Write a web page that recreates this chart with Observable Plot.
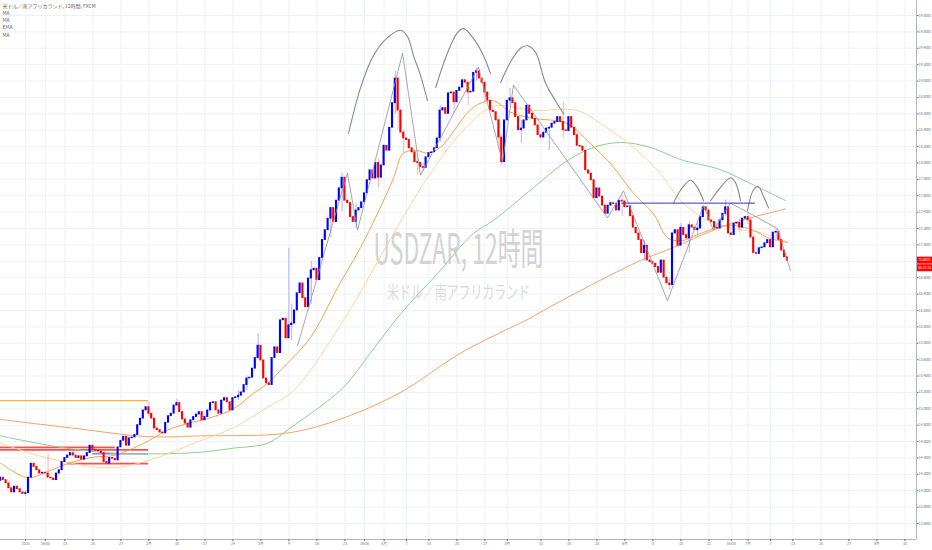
<!DOCTYPE html>
<html><head><meta charset="utf-8">
<script src="https://cdn.jsdelivr.net/npm/d3@7"></script>
<script src="https://cdn.jsdelivr.net/npm/@observablehq/plot@0.6"></script>
<style>html,body{margin:0;padding:0;background:#fff;overflow:hidden}</style>
</head><body><div id="chart"></div>
<script>
// ---- data (slot = 12h bar index, price = USDZAR) ----
const firstOpen = 14.12;
const closes = [
14.16,14.13,14.09,14.03,13.98,14.05,14.02,13.98,13.96,13.97,
14.16,14.33,14.29,14.25,14.21,14.22,14.21,14.16,14.15,14.13,
14.21,14.25,14.35,14.40,14.43,14.46,14.43,14.40,14.42,14.38,
14.42,14.46,14.55,14.50,14.49,14.48,14.46,14.35,14.33,14.40,
14.39,14.37,14.53,14.61,14.66,14.55,14.64,14.65,14.68,14.80,
14.88,14.98,15.02,14.94,14.88,14.76,14.74,14.71,14.70,14.83,
14.91,14.94,15.04,15.07,14.96,14.87,14.82,14.77,14.86,14.90,
14.93,14.96,14.86,14.90,14.98,15.07,15.08,14.98,14.94,15.10,
15.13,15.08,14.98,15.13,15.14,15.16,15.20,15.29,15.37,15.38,
15.49,15.62,15.77,
15.59,15.37,15.31,15.29,15.62,15.75,15.68,
16.08,16.10,15.86,16.02,16.04,16.20,16.41,16.53,16.35,16.24,
16.59,16.69,16.71,16.57,16.84,17.06,17.18,17.32,17.45,17.28,
17.54,17.69,17.82,17.54,17.51,17.34,17.28,17.42,17.45,17.52,
17.63,17.79,17.91,17.81,18.00,17.82,17.97,18.21,18.15,18.43,
18.73,19.03,18.64,18.37,18.30,18.28,18.18,18.13,18.01,18.00,
17.95,17.94,18.07,18.12,18.13,18.18,18.30,18.64,18.67,18.60,
18.85,18.86,18.74,18.88,18.92,19.01,18.98,18.86,18.87,19.10,
19.12,19.03,18.98,18.86,18.76,18.64,18.62,18.52,18.31,
18.01,
18.52,18.76,18.79,18.73,18.56,18.40,18.42,18.52,18.70,18.60,
18.54,18.46,18.34,18.31,18.37,18.42,18.43,18.48,18.50,18.56,
18.50,18.40,18.39,18.56,18.43,18.34,18.21,18.20,18.15,17.91,
17.87,17.79,17.57,17.69,17.59,17.48,17.38,17.48,17.51,17.50,
17.42,17.54,17.53,17.46,17.47,17.35,17.21,17.14,17.06,16.90,
16.99,16.81,16.79,16.77,16.73,16.66,16.81,16.60,16.53,16.51,
17.14,17.18,16.99,17.21,17.12,17.08,17.24,17.21,17.18,17.20,
17.34,17.46,17.42,17.30,17.28,17.21,17.20,17.30,17.38,17.46,
17.14,17.12,17.26,17.27,17.21,17.32,17.34,17.30,17.09,16.90,
16.89,16.96,16.97,17.02,17.06,16.97,17.15,17.16,17.06,16.93,
16.85,16.807
];
// notable wicks: [slot, low, high]
const wicks = [
[9,13.93,14.00],[17,14.16,14.45],[38,14.29,14.40],[53,14.90,15.08],[63,15.02,15.12],
[85,15.10,15.22],[88,15.22,15.40],[92,15.60,15.92],[103,15.95,16.96],[104,15.83,16.28],
[111,16.28,16.80],[118,17.09,17.46],[122,17.40,17.88],[127,17.20,17.50],[135,17.70,18.05],
[141,18.60,19.12],[142,18.40,19.05],[144,18.11,18.40],[149,17.85,18.05],[151,17.90,18.00],
[157,18.25,18.70],[162,18.60,18.80],[167,18.70,18.95],[170,19.00,19.16],[173,18.72,18.95],
[178,18.15,18.55],[179,17.97,18.35],[182,18.70,18.91],[186,18.24,18.52],[196,18.15,18.45],
[201,18.30,18.74],[222,17.35,17.60],[230,16.80,17.05],[239,16.44,16.60],[243,17.00,17.26],
[246,16.90,17.28],[249,17.10,17.26],[259,17.35,17.55],[264,17.14,17.32],[267,17.25,17.40],
[277,17.08,17.20]
];
// moving averages: [slot, price]
const emaShort = [[0,14.34],[9.6,14.16],[17.9,14.25],[23.9,14.33],[33.2,14.41],[40.4,14.43],[47.5,14.52],[52.9,14.61],[59.6,14.74],[66.8,14.82],[73.9,14.88],[83.2,15.00],[90.4,15.19],[95.4,15.31],[100,15.47],[110.7,15.87],[120.4,16.48],[128.6,16.97],[134.6,17.38],[140.4,17.82],[143.9,18.12],[148.9,18.15],[152.5,18.12],[157.1,18.19],[168.9,18.68],[176.1,18.76],[182.1,18.62],[189.3,18.55],[202.5,18.48],[209.6,18.27],[217.9,17.99],[226.1,17.63],[233.2,17.38],[238.2,17.09],[242.9,17.05],[250,17.14],[259.6,17.24],[268.9,17.18],[273.9,17.09],[281.1,17.03]];
const ma50 = [[0,14.58],[17.9,14.39],[39.3,14.28],[52.9,14.37],[71.4,14.61],[83.2,14.77],[95.4,15.02],[104.6,15.22],[122.5,16.08],[140.4,17.14],[152.5,17.82],[164.3,18.36],[176.1,18.69],[190.4,18.64],[206.1,18.64],[214.3,18.48],[226.1,18.19],[235.7,17.87],[242.9,17.54],[252.5,17.30],[261.8,17.20],[271.4,17.15],[281.1,17.03]];
const ma100 = [[0,14.67],[17.9,14.55],[35.7,14.47],[52.9,14.45],[71.4,14.47],[83.2,14.52],[95.4,14.58],[103.6,14.77],[122.1,15.25],[132.1,15.68],[142.9,16.16],[156.1,16.65],[168.9,17.14],[176.1,17.30],[190.4,17.70],[202.5,18.03],[211.8,18.19],[221.4,18.25],[232.1,18.19],[243.9,18.03],[256.1,17.93],[267.9,17.75],[280.4,17.54]];
const ma200 = [[0,14.87],[26.8,14.76],[52.9,14.66],[71.4,14.67],[103.6,14.71],[125,14.92],[143.9,15.22],[164.3,15.68],[189.3,16.11],[193.9,16.20],[214.3,16.57],[228.6,16.81],[240.4,16.97],[252.5,17.15],[261.8,17.27],[268.9,17.34],[280.4,17.44]];
// drawings
const zigzag = [[106.1,15.77],[123.9,17.88],[127.5,17.18],[143.6,19.34],[150,17.85],[170.7,19.17],[179.3,18.01],[183.2,18.95],[216.8,17.33],[222.5,17.66],[238.2,16.32],[251.1,17.48],[254.6,17.18],[260.7,17.51],[266.8,17.40],[277.5,17.20],[282.1,16.69]];
const arcs = [
 [[124.3,18.36],[128.6,18.92],[133.2,19.31],[138.2,19.53],[142.9,19.62],[145.4,19.54],[147.5,19.31],[150,19.07],[152.5,18.76]],
 [[155.4,18.92],[159.6,19.34],[163.2,19.59],[165.4,19.64],[168.9,19.52],[172.5,19.31],[175,19.09]],
 [[178.6,18.98],[182.1,19.23],[185.7,19.40],[188.2,19.43],[191.1,19.35],[194.6,18.98],[198.2,18.76],[201.1,18.60]],
 [[240.4,17.51],[242.9,17.67],[246.4,17.79],[248.9,17.70],[251.1,17.54]],
 [[253.6,17.54],[257.1,17.70],[260.7,17.82],[262.5,17.76],[264.3,17.54]],
 [[266.8,17.42],[268.9,17.67],[270.7,17.71],[272.5,17.59],[274.3,17.45]]
];
const redLevels = [[14.53,0,41],[14.50,0,52.9],[14.33,24,52.9]];
const blueLevels = [[14.45,33,52.9]];
const goldLevels = [[15.10,0,52.9]];
const neckline = [[17.51,222,269.6]];
// axes
const priceTicks = [13.6,13.8,14.0,14.2,14.4,14.6,14.8,15.0,15.2,15.4,15.6,15.8,16.0,16.2,16.4,16.6,16.8,17.0,17.2,17.4,17.6,17.8,18.0,18.2,18.4,18.6,18.8,19.0,19.2,19.4,19.6,19.8];
const tickSlots = [9,16,23,33,43,53,63,73,83,93,103,113,123,130,137,145,153,163,173,181,193,203,213,223,233,243,253,261,267,275,283,293,303,313,323];
const tickLabels = ["2020","16:00","13","20","27","2月","10","17","24","3月","9","16","23","16:00","4月","7","13","20","27","5月","11","18","25","6月","8","15","22","16:00","7月","7","13","20","27","8月","10"];
const legendLines = ["米ドル／南アフリカランド, 12時間, FXCM","MA","MA","EMA","MA"];
const watermark = "USDZAR, 12時間";
const watermarkSub = "米ドル／南アフリカランド";
const countdown = "05:27:14";

// ---- build ----
const candles = closes.map((c, i) => ({i, open: i ? closes[i-1] : firstOpen, close: c}));
const wickData = wicks.map(([i, lo, hi]) => ({i, lo, hi, up: candles[i].close >= candles[i].open}));
const xDomain = [0, 327.14];
const yDomain = [13.405, 19.983];
const P = d => d[0], Q = d => d[1];

const plot = Plot.plot({
  width: 932, height: 550,
  marginLeft: 0, marginRight: 16, marginTop: 0, marginBottom: 11,
  x: {domain: xDomain}, y: {domain: yDomain},
  color: {type: "identity"},
  style: {fontFamily: "'Noto Sans CJK JP','Noto Sans',sans-serif", background: "#fff", overflow: "visible"},
  marks: [
    Plot.gridY({ticks: priceTicks, stroke: "#eef1f6", strokeOpacity: 1}),
    Plot.gridX({ticks: tickSlots, stroke: "#eef1f6", strokeOpacity: 1}),
    Plot.text([watermark], {frameAnchor: "middle", dy: -19, fontSize: 42, fill: "#d3d3d3"}),
    Plot.text([watermarkSub], {frameAnchor: "middle", dy: 23, fontSize: 18, fill: "#dadada"}),
    Plot.text([legendLines.join("\n")], {frameAnchor: "top-left", dx: 2, dy: 2, fontSize: 5, lineHeight: 1.45, fill: "#666", textAnchor: "start"}),
    Plot.ruleY(goldLevels, {y: P, x1: d => d[1], x2: d => d[2], stroke: "#f5b335", strokeWidth: 1.2}),
    Plot.ruleY(redLevels, {y: P, x1: d => d[1], x2: d => d[2], stroke: "#ff3b3b", strokeWidth: 1.8, strokeOpacity: 0.9}),
    Plot.ruleY(blueLevels, {y: P, x1: d => d[1], x2: d => d[2], stroke: "#4646d8", strokeWidth: 1}),
    Plot.line(ma200, {x: P, y: Q, stroke: "#f7a262", strokeWidth: 1, curve: "catmull-rom"}),
    Plot.line(ma100, {x: P, y: Q, stroke: "#8fcf8f", strokeWidth: 1, curve: "catmull-rom"}),
    Plot.line(ma50, {x: P, y: Q, stroke: "#fdd49c", strokeWidth: 1, curve: "catmull-rom"}),
    Plot.line(emaShort, {x: P, y: Q, stroke: "#f7a04e", strokeWidth: 1, curve: "catmull-rom"}),
    Plot.ruleX(wickData, {x: "i", y1: "lo", y2: "hi", stroke: d => d.up ? "#9c9cff" : "#ff9c9c", strokeWidth: 0.8}),
    Plot.rect(candles, {x1: d => d.i - 0.38, x2: d => d.i + 0.38, y1: "open", y2: "close",
      fill: d => d.close >= d.open ? "#0000ff" : "#ff0000", insetTop: -0.4, insetBottom: -0.4}),
    Plot.line(zigzag, {x: P, y: Q, stroke: "#8e9099", strokeWidth: 0.8}),
    ...arcs.map(a => Plot.line(a, {x: P, y: Q, stroke: "#8a8a8a", strokeWidth: 1.1, curve: "catmull-rom"})),
    Plot.ruleY(neckline, {y: P, x1: d => d[1], x2: d => d[2], stroke: "#3030c8", strokeWidth: 1}),
    Plot.ruleX([xDomain[1]], {stroke: "#b2b5be"}),
    Plot.ruleY([yDomain[0]], {stroke: "#b2b5be"}),
    Plot.axisY({anchor: "right", ticks: priceTicks, tickFormat: d => d.toFixed(4), tickSize: 1.5, tickPadding: 0.8, fontSize: 3.3, color: "#6a6d78", label: null}),
    Plot.axisX({ticks: tickSlots, tickFormat: d => tickLabels[tickSlots.indexOf(d)], tickSize: 2, tickPadding: 1, fontSize: 3.6, color: "#6a6d78", label: null})
  ]
});
document.getElementById("chart").appendChild(plot);

const svg = d3.select(plot);
svg.selectAll("text").filter(function(){ return this.textContent === watermark; })
  .attr("textLength", 170).attr("lengthAdjust", "spacingAndGlyphs");
svg.selectAll("text").filter(function(){ return this.textContent === watermarkSub; })
  .attr("textLength", 143).attr("lengthAdjust", "spacingAndGlyphs");

const last = closes[closes.length - 1];
const py = plot.scale("y").apply(last);
const g = svg.append("g").attr("font-family", "'Noto Sans',sans-serif");
g.append("rect").attr("x", 917).attr("y", py - 3.6).attr("width", 15).attr("height", 7).attr("fill", "#ff0000");
g.append("text").attr("x", 924.5).attr("y", py).attr("dy", "0.35em").attr("text-anchor", "middle")
  .attr("fill", "#fff").attr("font-size", 3.2).text(last.toFixed(4));
g.append("rect").attr("x", 917).attr("y", py + 4).attr("width", 15).attr("height", 7).attr("fill", "#ff0000");
g.append("text").attr("x", 924.5).attr("y", py + 7.6).attr("dy", "0.35em").attr("text-anchor", "middle")
  .attr("fill", "#fff").attr("font-size", 3.2).text(countdown);
</script>
</body></html>
